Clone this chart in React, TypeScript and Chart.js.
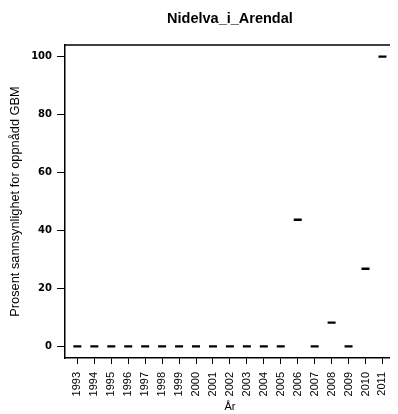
import React, { useEffect, useRef } from "react";
import { Chart, registerables } from "chart.js";

Chart.register(...registerables);

const chartTitle = "Nidelva_i_Arendal";
const yTitle = "Prosent sannsynlighet for oppnådd GBM";
const xTitle = "År";
const years = [
  "1993", "1994", "1995", "1996", "1997", "1998", "1999", "2000", "2001", "2002",
  "2003", "2004", "2005", "2006", "2007", "2008", "2009", "2010", "2011",
];
const values = [0, 0, 0, 0, 0, 0, 0, 0, 0, 0, 0, 0, 0, 43.7, 0, 8.2, 0, 26.8, 100];
const yTicks = [0, 20, 40, 60, 80, 100];

const topBorder = {
  id: "topBorder",
  afterDraw(chart: any) {
    const { ctx, chartArea } = chart;
    ctx.save();
    ctx.strokeStyle = "#000";
    ctx.lineWidth = 1.5;
    ctx.beginPath();
    ctx.moveTo(chartArea.left - 0.75, chartArea.top);
    ctx.lineTo(chartArea.right + 2, chartArea.top);
    ctx.stroke();
    ctx.restore();
  },
};

export default function App() {
  const ref = useRef<HTMLCanvasElement>(null);
  useEffect(() => {
    if (!ref.current) return;
    const chart = new Chart(ref.current, {
      type: "scatter",
      data: {
        datasets: [
          {
            data: values.map((v, i) => ({ x: i, y: v })),
            pointStyle: "line",
            radius: 4,
            borderWidth: 2.3,
            borderColor: "#000",
            backgroundColor: "#000",
          },
        ],
      },
      plugins: [topBorder],
      options: {
        animation: false,
        responsive: false,
        devicePixelRatio: 1,
        layout: { padding: 0 },
        plugins: {
          legend: { display: false },
          tooltip: { enabled: false },
          title: {
            display: true,
            text: chartTitle,
            fullSize: false,
            color: "#000",
            font: { family: "Liberation Sans", size: 14.5, weight: "bold" },
            padding: { top: 2, bottom: 17.6 },
          },
        },
        scales: {
          x: {
            type: "linear",
            min: -0.73,
            max: 18.73,
            afterBuildTicks: (axis: any) => {
              axis.ticks = years.map((_, i) => ({ value: i }));
            },
            afterFit: (scale: any) => {
              scale.height = 56;
            },
            ticks: {
              autoSkip: false,
              minRotation: 90,
              maxRotation: 90,
              padding: 8,
              color: "#000",
              font: { family: "Liberation Sans", size: 11 },
              callback: (v: any) => years[v] ?? "",
            },
            grid: {
              drawOnChartArea: false,
              tickLength: 6,
              tickWidth: 1,
              color: "#000",
            },
            border: { display: true, color: "#000", width: 1.5 },
            title: {
              display: true,
              text: xTitle,
              color: "#000",
              font: { family: "Liberation Sans", size: 11 },
              padding: 0,
            },
          },
          y: {
            type: "linear",
            min: -4,
            max: 104,
            afterBuildTicks: (axis: any) => {
              axis.ticks = yTicks.map((v) => ({ value: v }));
            },
            afterFit: (scale: any) => {
              scale.width = 57;
            },
            ticks: {
              padding: 5,
              color: "#000",
              font: { family: "DejaVu Sans", size: 10, weight: "bold" },
            },
            grid: {
              drawOnChartArea: false,
              tickLength: 8,
              tickWidth: 1,
              color: "#000",
            },
            border: { display: true, color: "#000", width: 1.5 },
            title: {
              display: true,
              text: yTitle,
              color: "#000",
              font: { family: "Liberation Sans", size: 12.8 },
              padding: 0,
            },
          },
        },
      },
    } as any);
    return () => chart.destroy();
  }, []);
  return (
    <div style={{ width: 390, height: 406, overflow: "hidden", position: "relative" }}>
      <canvas ref={ref} width={396} height={406} style={{ display: "block" }} />
    </div>
  );
}
